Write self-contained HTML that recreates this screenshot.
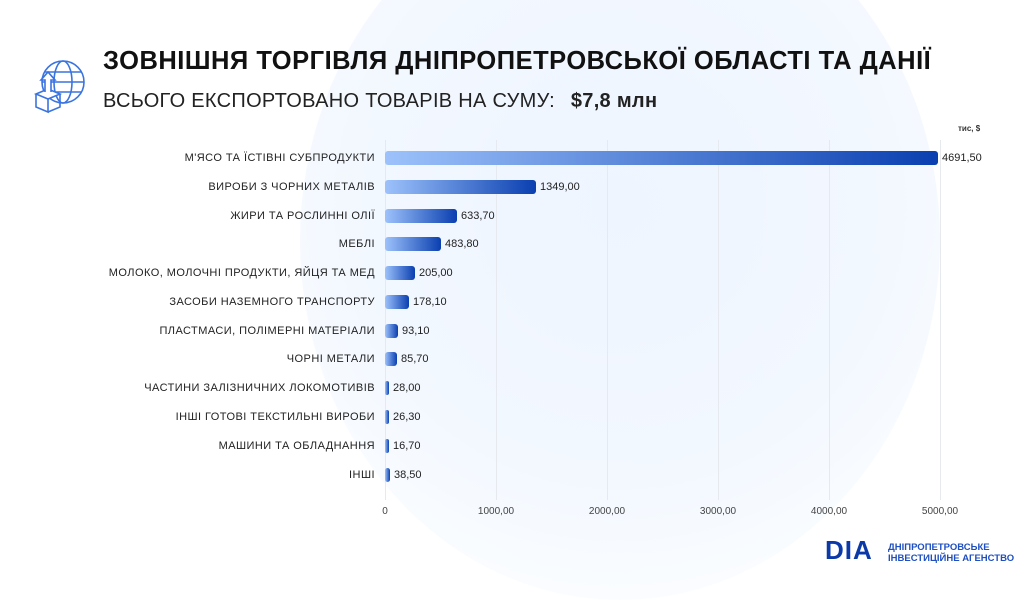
<!DOCTYPE html>
<html><head><meta charset="utf-8"><style>
body{margin:0;width:1024px;height:576px;overflow:hidden;background:#fff;font-family:"Liberation Sans",sans-serif;position:relative}
.bg{position:absolute;left:300px;top:-120px;width:640px;height:720px;border-radius:50%;background:radial-gradient(circle at 50% 45%,#eef5ff 0%,#f3f8ff 55%,#fbfdff 80%,rgba(255,255,255,0) 100%)}
.t1{position:absolute;left:103px;top:47px;font-size:25.5px;font-weight:bold;color:#111;letter-spacing:0.5px}
.t2{position:absolute;left:103px;top:90px;font-size:20px;color:#222;letter-spacing:0.3px}
.t2 b{margin-left:10px}
.lab{position:absolute;right:649px;font-size:11px;color:#222;white-space:nowrap;transform:translateY(-50%);letter-spacing:0.45px}
.bar{position:absolute;left:385px;height:14px;border-radius:3px;background:linear-gradient(90deg,#9dc2fb,#0a3fb0);transform:translateY(-50%)}
.val{position:absolute;font-size:11px;color:#222;transform:translateY(-50%)}
.grid{position:absolute;top:140px;height:360px;width:1px;background:#e6e9ee}
.ax{position:absolute;top:506px;font-size:10px;color:#444;transform:translateX(-50%)}
</style></head><body>
<div class="bg"></div>
<svg style="position:absolute;left:33px;top:58px" width="56" height="56" viewBox="0 0 56 56" fill="none" stroke="#3a74e0" stroke-width="1.6">
<circle cx="30" cy="24" r="21"/><ellipse cx="30" cy="24" rx="9" ry="21"/><line x1="9" y1="24" x2="51" y2="24"/><line x1="12" y1="14" x2="48" y2="14"/><line x1="12" y1="34" x2="48" y2="34"/>
<path d="M3 36 L15 31 L27 36 L15 41 Z" fill="#fff"/><path d="M3 36 V49 L15 54 V41"/><path d="M27 36 V49 L15 54" />
<path d="M12 34 V22 H8 L15 14 L22 22 H18 V34" fill="#fff"/>
</svg>
<div class="t1">ЗОВНІШНЯ ТОРГІВЛЯ ДНІПРОПЕТРОВСЬКОЇ ОБЛАСТІ ТА ДАНІЇ</div>
<div class="t2">ВСЬОГО ЕКСПОРТОВАНО ТОВАРІВ НА СУМУ: <b>$7,8 млн</b></div>
<div style="position:absolute;left:958px;top:124px;font-size:8px;color:#333;font-weight:bold">тис, $</div>
<div class="grid" style="left:385px"></div><div class="grid" style="left:496px"></div><div class="grid" style="left:607px"></div><div class="grid" style="left:718px"></div><div class="grid" style="left:829px"></div><div class="grid" style="left:940px"></div>
<div class="ax" style="left:385px">0</div><div class="ax" style="left:496px">1000,00</div><div class="ax" style="left:607px">2000,00</div><div class="ax" style="left:718px">3000,00</div><div class="ax" style="left:829px">4000,00</div><div class="ax" style="left:940px">5000,00</div>

<div class="lab" style="top:158px">М'ЯСО ТА ЇСТІВНІ СУБПРОДУКТИ</div><div class="bar" style="top:158px;width:553px"></div><div class="val" style="top:158px;left:942px">4691,50</div>
<div class="lab" style="top:187px">ВИРОБИ З ЧОРНИХ МЕТАЛІВ</div><div class="bar" style="top:187px;width:151px"></div><div class="val" style="top:187px;left:540px">1349,00</div>
<div class="lab" style="top:216px">ЖИРИ ТА РОСЛИННІ ОЛІЇ</div><div class="bar" style="top:216px;width:72px"></div><div class="val" style="top:216px;left:461px">633,70</div>
<div class="lab" style="top:244px">МЕБЛІ</div><div class="bar" style="top:244px;width:56px"></div><div class="val" style="top:244px;left:445px">483,80</div>
<div class="lab" style="top:273px">МОЛОКО, МОЛОЧНІ ПРОДУКТИ, ЯЙЦЯ ТА МЕД</div><div class="bar" style="top:273px;width:30px"></div><div class="val" style="top:273px;left:419px">205,00</div>
<div class="lab" style="top:302px">ЗАСОБИ НАЗЕМНОГО ТРАНСПОРТУ</div><div class="bar" style="top:302px;width:24px"></div><div class="val" style="top:302px;left:413px">178,10</div>
<div class="lab" style="top:331px">ПЛАСТМАСИ, ПОЛІМЕРНІ МАТЕРІАЛИ</div><div class="bar" style="top:331px;width:13px"></div><div class="val" style="top:331px;left:402px">93,10</div>
<div class="lab" style="top:359px">ЧОРНІ МЕТАЛИ</div><div class="bar" style="top:359px;width:12px"></div><div class="val" style="top:359px;left:401px">85,70</div>
<div class="lab" style="top:388px">ЧАСТИНИ ЗАЛІЗНИЧНИХ ЛОКОМОТИВІВ</div><div class="bar" style="top:388px;width:4px"></div><div class="val" style="top:388px;left:393px">28,00</div>
<div class="lab" style="top:417px">ІНШІ ГОТОВІ ТЕКСТИЛЬНІ ВИРОБИ</div><div class="bar" style="top:417px;width:4px"></div><div class="val" style="top:417px;left:393px">26,30</div>
<div class="lab" style="top:446px">МАШИНИ ТА ОБЛАДНАННЯ</div><div class="bar" style="top:446px;width:4px"></div><div class="val" style="top:446px;left:393px">16,70</div>
<div class="lab" style="top:475px">ІНШІ</div><div class="bar" style="top:475px;width:5px"></div><div class="val" style="top:475px;left:394px">38,50</div>

<div style="position:absolute;left:825px;top:536px;width:55px;height:28px;font-weight:bold;font-size:26px;color:#0b3aa8;line-height:28px;letter-spacing:1px">DIA</div>
<div style="position:absolute;left:888px;top:542px;font-size:9.5px;font-weight:bold;color:#1f4fc0;line-height:11px">ДНІПРОПЕТРОВСЬКЕ<br>ІНВЕСТИЦІЙНЕ АГЕНСТВО</div>
</body></html>
